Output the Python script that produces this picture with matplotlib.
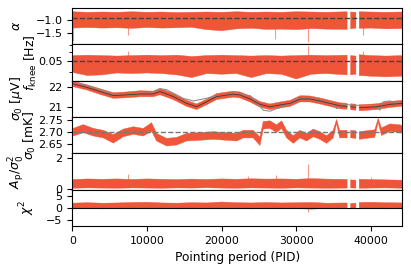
import numpy as np
import matplotlib
matplotlib.use("Agg")
import matplotlib.pyplot as plt
from matplotlib.ticker import FixedLocator, NullFormatter, FormatStrFormatter

nan = np.nan

# PID grid used for the flat-looking panels (nan marks the data gaps)
pid_flat = [0, 2000, 4000, 6000, 8000, 10000, 12000, 14000, 16000, 18000, 20000,
            22000, 24000, 26000, 28000, 30000, 32000, 34000, 36800, 37000, 37270,
            37980, 38200, 38420, 40000, 42000, 44200]

# alpha (spectral slope) envelope
alpha_hi = [-0.68, -0.70, -0.69, -0.70, -0.68, -0.70, -0.69, -0.71, -0.70, -0.69, -0.70,
            -0.68, -0.70, -0.69, -0.70, -0.68, -0.69, -0.70, -0.68, nan, -0.69,
            -0.70, nan, -0.68, -0.69, -0.70, -0.69]
alpha_lo = [-1.30, -1.28, -1.30, -1.29, -1.31, -1.28, -1.30, -1.29, -1.27, -1.36, -1.40,
            -1.33, -1.31, -1.35, -1.34, -1.36, -1.32, -1.34, -1.35, nan, -1.33,
            -1.30, nan, -1.31, -1.30, -1.33, -1.32]
alpha_spike_pid = [100, 7500, 27200, 31500, 38950]
alpha_spike_val = [-1.80, -1.55, -1.70, -1.83, -1.55]

# f_knee envelope
fknee_hi = [0.056, 0.0565, 0.056, 0.0555, 0.056, 0.0565, 0.056, 0.0565, 0.055, 0.056, 0.0565,
            0.056, 0.0555, 0.056, 0.0555, 0.056, 0.0565, 0.056, 0.0565, nan, 0.056,
            0.0555, nan, 0.057, 0.056, 0.0555, 0.056]
fknee_lo = [0.040, 0.0375, 0.038, 0.0395, 0.039, 0.0395, 0.039, 0.038, 0.036, 0.039, 0.0385,
            0.039, 0.036, 0.039, 0.0385, 0.035, 0.0385, 0.039, 0.038, nan, 0.038,
            0.0385, nan, 0.0375, 0.037, 0.0365, 0.037]
fknee_spike_pid = [7500, 31500, 38950]
fknee_spike_val = [0.061, 0.068, 0.062]

# sigma0 in uV
pid_s0 = [130, 1930, 3710, 5490, 7280, 9060, 10840, 11740, 13520, 15310,
          16650, 17990, 19330, 21550, 22450, 23790, 25130, 26470, 27810, 29150,
          30490, 31820, 33160, 34500, 35840, 36800, 37000, 37270, 37980, 38200,
          38420, 40750, 42530, 44200]
s0_hi = [22.28, 22.10, 21.90, 21.70, 21.74, 21.80, 21.78, 21.92, 21.66, 21.32,
         21.14, 21.38, 21.66, 21.78, 21.74, 21.54, 21.26, 21.14, 21.24, 21.32,
         21.55, 21.54, 21.44, 21.32, 21.20, 21.17, nan, 21.15, 21.13, nan,
         21.10, 21.15, 21.27, 21.32]
s0_lo = [22.00, 21.84, 21.62, 21.42, 21.45, 21.50, 21.50, 21.60, 21.36, 21.02,
         20.86, 21.10, 21.36, 21.48, 21.44, 21.24, 20.98, 20.86, 20.94, 21.02,
         21.24, 21.24, 21.14, 21.02, 20.90, 20.88, nan, 20.85, 20.83, nan,
         20.80, 20.86, 20.97, 21.02]
s0_mean = [22.14, 21.97, 21.76, 21.56, 21.59, 21.64, 21.64, 21.76, 21.51, 21.17,
           21.00, 21.25, 21.51, 21.63, 21.59, 21.39, 21.12, 21.00, 21.09, 21.17,
           21.39, 21.39, 21.29, 21.17, 21.05, 21.02, nan, 21.00, 20.98, nan,
           20.95, 21.00, 21.12, 21.17]
pid_ref = [130, 1930, 3710, 5490, 7280, 9060, 10400, 11740, 12630, 13520, 14860, 16200,
           17540, 18880, 20670, 22010, 22890, 23790, 24680, 25570, 26470, 27360, 28250,
           29140, 30040, 30920, 32260, 33600, 34500, 35390, 36280, 37180, 38960, 40750,
           41190, 41630, 42530, 43870]
s0_ref = [22.19, 22.07, 21.85, 21.59, 21.56, 21.68, 21.68, 21.90, 21.85, 21.68, 21.42, 21.29,
          21.39, 21.51, 21.59, 21.68, 21.59, 21.56, 21.25, 20.83, 20.78, 20.91, 21.00,
          21.17, 21.39, 21.42, 21.39, 21.25, 21.22, 20.91, 21.14, 21.09, 21.06, 21.06,
          20.83, 21.25, 21.29, 21.17]

# sigma0 in mK
pid_mk = [130, 1470, 2820, 4150, 5490, 6830, 8170, 9500, 10620, 11290,
          12630, 13970, 15310, 17100, 18880, 20670, 22010, 22900, 24230, 25130,
          25570, 26470, 27360, 28030, 28700, 29590, 30480, 31380, 32260, 33160,
          34050, 34940, 35390, 35800, 36800, 37000, 37270, 37980, 38200, 38420,
          39850, 40500, 40960, 41400, 42530, 43870, 44200]
mk_hi = [2.714, 2.730, 2.714, 2.706, 2.688, 2.711, 2.721, 2.714, 2.738, 2.693,
         2.672, 2.676, 2.693, 2.696, 2.700, 2.696, 2.693, 2.706, 2.706, 2.678,
         2.743, 2.746, 2.729, 2.746, 2.706, 2.683, 2.706, 2.693, 2.711, 2.700,
         2.683, 2.706, 2.752, 2.706, 2.706, nan, 2.706, 2.704, nan, 2.700,
         2.706, 2.708, 2.756, 2.716, 2.733, 2.729, 2.726]
mk_lo = [2.682, 2.696, 2.682, 2.674, 2.652, 2.679, 2.689, 2.682, 2.702, 2.661,
         2.640, 2.644, 2.661, 2.664, 2.668, 2.664, 2.661, 2.674, 2.674, 2.642,
         2.711, 2.714, 2.697, 2.714, 2.674, 2.651, 2.674, 2.661, 2.679, 2.668,
         2.651, 2.674, 2.735, 2.674, 2.674, nan, 2.674, 2.672, nan, 2.668,
         2.674, 2.676, 2.740, 2.684, 2.701, 2.697, 2.694]

# A_p / sigma0^2
ap_hi = [0.62, 0.66, 0.64, 0.66, 0.63, 0.66, 0.64, 0.62, 0.65, 0.63, 0.66,
         0.64, 0.67, 0.65, 0.66, 0.64, 0.68, 0.65, 0.63, nan, 0.60,
         0.58, nan, 0.64, 0.62, 0.60, 0.58]
ap_lo = [0.06, 0.08, 0.07, 0.06, 0.08, 0.07, 0.06, 0.08, 0.07, 0.09, 0.07,
         0.06, 0.08, 0.07, 0.06, 0.08, 0.07, 0.06, 0.07, nan, 0.08,
         0.07, nan, 0.06, 0.07, 0.08, 0.06]
ap_spike_pid = [7500, 23500, 27300, 31500, 40000]
ap_spike_val = [1.00, 0.85, 0.92, 1.64, 0.80]

# chi^2
chi_hi = [1.9, 2.1, 1.9, 2.0, 2.2, 2.3, 2.0, 1.9, 2.1, 2.0, 2.4,
          2.1, 2.0, 2.2, 2.0, 2.1, 2.2, 1.9, 2.0, nan, 1.8,
          1.9, nan, 2.2, 2.3, 2.1, 2.0]
chi_lo = [-0.4, -0.3, -0.5, -0.4, -0.3, -0.4, -0.3, -0.5, -0.4, -0.3, -0.4,
          -0.3, -0.5, -0.4, -0.3, -0.4, -0.6, -0.3, -0.4, nan, -0.3,
          -0.4, nan, -0.3, -0.4, -0.5, -0.3]
chi_spike_pid = [31500]
chi_spike_val = [-2.0]

red = '#ef5539'
plt.rcParams['font.size'] = 8
plt.rcParams['xtick.labelsize'] = 7.8
plt.rcParams['ytick.labelsize'] = 8
plt.rcParams['axes.labelsize'] = 9

fig, axes = plt.subplots(6, 1, figsize=(4.11, 2.69), dpi=100, sharex=True)
fig.subplots_adjust(left=0.176, right=0.979, top=0.970, bottom=0.160, hspace=0)

def band(ax, x, lo, hi):
    ax.fill_between(x, lo, hi, color=red, lw=0.3, edgecolor=red)

def spikes(ax, x, base, val):
    ax.vlines(x, base, val, color=red, alpha=0.6, lw=0.8)

# alpha
ax = axes[0]
band(ax, pid_flat, alpha_lo, alpha_hi)
spikes(ax, alpha_spike_pid, -1.0, alpha_spike_val)
ax.axhline(-0.9, color='#444444', ls='--', lw=1.0)
ax.set_ylim(-1.92, -0.54)
ax.set_yticks([-1.0, -1.5])
ax.set_ylabel(r'$\alpha$')

# f_knee
ax = axes[1]
band(ax, pid_flat, fknee_lo, fknee_hi)
spikes(ax, fknee_spike_pid, 0.05, fknee_spike_val)
ax.axhline(0.05, color='#444444', ls='--', lw=1.0)
ax.set_yscale('log')
ax.set_ylim(0.0338, 0.0702)
ax.yaxis.set_major_locator(FixedLocator([0.05]))
ax.yaxis.set_major_formatter(FormatStrFormatter('%.2f'))
ax.yaxis.set_minor_formatter(NullFormatter())
ax.set_ylabel(r'$f_\mathrm{knee}$ [Hz]')

# sigma0 uV
ax = axes[2]
band(ax, pid_s0, s0_lo, s0_hi)
ax.plot(pid_ref, s0_ref, color='#8c8c8c', lw=0.8)
ax.plot(pid_s0, s0_mean, color='#3a3a3a', lw=0.6)
ax.set_ylim(20.49, 22.30)
ax.set_yticks([21, 22])
ax.set_ylabel(r'$\sigma_0$ [$\mu$V]')

# sigma0 mK
ax = axes[3]
band(ax, pid_mk, mk_lo, mk_hi)
ax.axhline(2.70, color='#777777', ls='--', lw=1.0)
ax.set_ylim(2.609, 2.762)
ax.set_yticks([2.65, 2.70, 2.75])
ax.yaxis.set_major_formatter(FormatStrFormatter('%.2f'))
ax.set_ylabel(r'$\sigma_0$ [mK]')

# A_p / sigma0^2
ax = axes[4]
band(ax, pid_flat, ap_lo, ap_hi)
spikes(ax, ap_spike_pid, 0.35, ap_spike_val)
ax.set_ylim(-0.03, 2.31)
ax.set_yticks([0, 2])
ax.set_ylabel(r'$A_\mathrm{p}/\sigma_0^2$')

# chi^2
ax = axes[5]
band(ax, pid_flat, chi_lo, chi_hi)
spikes(ax, chi_spike_pid, 0.5, chi_spike_val)
ax.axhline(0, color='black', lw=0.8)
ax.set_ylim(-7.7, 7.6)
ax.set_yticks([-5, 0, 5])
ax.set_ylabel(r'$\chi^2$')

ax.set_xlim(0, 44200)
ax.set_xticks([0, 10000, 20000, 30000, 40000])
ax.set_xlabel('Pointing period (PID)', fontsize=8.7)

# y-labels sit at alternating distances from the axis, as in the original
for ax, xpos in zip(axes, [-0.150, -0.100, -0.143, -0.103, -0.138, -0.106]):
    ax.yaxis.set_label_coords(xpos, 0.5)

plt.savefig('out.png', dpi=100)
